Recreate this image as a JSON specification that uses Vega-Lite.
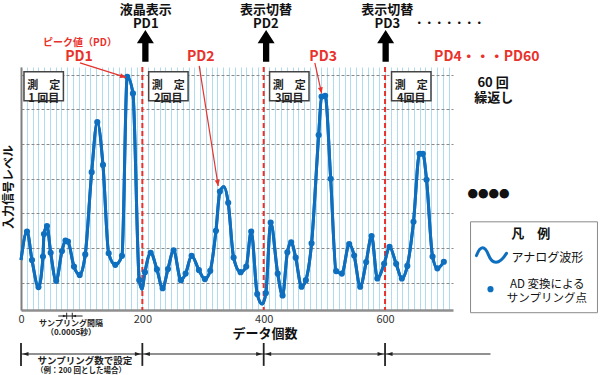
{
 "$schema": "https://vega.github.io/schema/vega-lite/v6.json",
 "width": 432, "height": 243,
 "autosize": {"type": "none"},
 "padding": {"left": 21, "top": 67, "right": 147, "bottom": 65},
 "background": "white",
 "config": {"font": "Noto Sans CJK JP", "view": {"stroke": null}},
 "resolve": {"axis": {"x": "independent"}},
 "datasets": {
  "wave": [
   {"x":0,"y":1.44,"s":0},{"x":9.9,"y":2.26,"s":1},{"x":18.1,"y":1.44,"s":1},{"x":28.8,"y":0.66,"s":1},{"x":36.2,"y":1.54,"s":1},{"x":37.9,"y":2.19,"s":1},{"x":42.8,"y":2.42,"s":1},{"x":48.9,"y":1.65,"s":1},{"x":58,"y":0.84,"s":1},{"x":67.5,"y":1.7,"s":1},{"x":73.3,"y":2,"s":1},{"x":77.4,"y":1.97,"s":1},{"x":87.3,"y":1.25,"s":1},{"x":96.7,"y":1.01,"s":1},{"x":105.9,"y":1.6,"s":1},{"x":116.5,"y":3.97,"s":1},{"x":125.7,"y":5.41,"s":1},{"x":135.1,"y":4.18,"s":1},{"x":144.5,"y":1.63,"s":1},{"x":155.4,"y":1.3,"s":1},{"x":166.4,"y":1.56,"s":1},{"x":175.1,"y":6.72,"s":1},{"x":184.5,"y":6.24,"s":1},{"x":194.9,"y":0.86,"s":1},{"x":199.3,"y":0.6,"s":0},{"x":204.3,"y":1.09,"s":1},{"x":213.7,"y":1.65,"s":1},{"x":224,"y":1.17,"s":1},{"x":233.4,"y":0.63,"s":1},{"x":242.2,"y":1.18,"s":1},{"x":251.5,"y":1.72,"s":1},{"x":263.6,"y":0.86,"s":1},{"x":271.3,"y":1.05,"s":1},{"x":281.2,"y":1.56,"s":1},{"x":293.2,"y":1.15,"s":1},{"x":303.1,"y":0.89,"s":1},{"x":311.9,"y":1.13,"s":1},{"x":321.3,"y":2.28,"s":1},{"x":327.8,"y":3.41,"s":1},{"x":334.4,"y":3.55,"s":0},{"x":341.5,"y":3.09,"s":1},{"x":350.4,"y":1.51,"s":1},{"x":361.9,"y":1.09,"s":1},{"x":371.2,"y":1.25,"s":1},{"x":379.4,"y":2.26,"s":1},{"x":389.3,"y":0.46,"s":1},{"x":397.5,"y":0.17,"s":0},{"x":403.6,"y":0.49,"s":1},{"x":411.5,"y":2.52,"s":1},{"x":423.1,"y":1.05,"s":1},{"x":431.1,"y":0.42,"s":1},{"x":439,"y":1.66,"s":1},{"x":445.3,"y":1.95,"s":1},{"x":452.7,"y":1.51,"s":1},{"x":462.4,"y":0.67,"s":1},{"x":469.5,"y":0.86,"s":1},{"x":478.9,"y":1.92,"s":1},{"x":490.6,"y":5.04,"s":1},{"x":495.4,"y":6.15,"s":1},{"x":501.3,"y":6.17,"s":1},{"x":510.4,"y":3.78,"s":1},{"x":519.4,"y":1.12,"s":1},{"x":528.8,"y":1.05,"s":1},{"x":540.9,"y":1.9,"s":1},{"x":549.1,"y":1.57,"s":1},{"x":559,"y":0.67,"s":1},{"x":568.9,"y":1.38,"s":1},{"x":577.8,"y":2.13,"s":1},{"x":587.3,"y":0.91,"s":1},{"x":598.5,"y":1.33,"s":1},{"x":607.4,"y":1.82,"s":1},{"x":618.3,"y":1.33,"s":1},{"x":627.7,"y":0.91,"s":1},{"x":636.7,"y":1.27,"s":1},{"x":646.9,"y":2.54,"s":1},{"x":656.8,"y":4.5,"s":1},{"x":662.3,"y":4.5,"s":1},{"x":668.4,"y":3.75,"s":1},{"x":678.3,"y":1.54,"s":1},{"x":686.2,"y":1.2,"s":1},{"x":696.9,"y":1.39,"s":1}
  ],
  "div": [{"x":200},{"x":400},{"x":600}],
  "bigarrow": [{"x":205,"y":7.61},{"x":404,"y":7.61},{"x":601,"y":7.61}],
  "head": [
   {"x":205.6,"y":8.65,"t":"液晶表示"},{"x":205.6,"y":8.23,"t":"PD1"},
   {"x":403.6,"y":8.65,"t":"表示切替"},{"x":403.6,"y":8.23,"t":"PD2"},
   {"x":603.8,"y":8.65,"t":"表示切替"},{"x":603.8,"y":8.23,"t":"PD3"}
  ],
  "dots": [{"x":706,"y":8.24,"t":"・・・・・・・"}],
  "redlab": [
   {"x":95.6,"y":7.3,"t":"PD1"},{"x":296.2,"y":7.3,"t":"PD2"},{"x":498,"y":7.3,"t":"PD3"},{"x":767.7,"y":7.3,"t":"PD4・・・PD60"}
  ],
  "peaklab": [{"x":97.2,"y":7.69,"t":"ピーク値（PD）"}],
  "pointer": [
   {"x":97.2,"y":7.12,"x2":173.0,"y2":6.7,"a":107},
   {"x":293.7,"y":7.03,"x2":325.0,"y2":3.572,"a":171},
   {"x":484.3,"y":7.12,"x2":495.4,"y2":6.243,"a":168}
  ],
  "boxes": [
   {"x":4.9,"x2":69.9,"y":6.865,"y2":6.03,"ym":6.448,"t":"測　定\n1 回目"},
   {"x":210.4,"x2":275.4,"y":6.865,"y2":6.03,"ym":6.448,"t":"測　定\n2回目"},
   {"x":409.7,"x2":474.7,"y":6.865,"y2":6.03,"ym":6.448,"t":"測　定\n3回目"},
   {"x":610.7,"x2":675.7,"y":6.865,"y2":6.03,"ym":6.448,"t":"測　定\n4回目"}
  ],
  "side": [{"x":778,"y":6.55,"t":"60 回"},{"x":779,"y":6.1,"t":"繰返し"}],
  "bullets": [{"x":770.5,"y":3.31,"t":"●●●●"}],
  "ytitle": [{"x":-20.5,"y":3.54,"t":"入力信号レベル"}],
  "xtitle": [{"x":402,"y":-0.69,"t":"データ個数"}],
  "interval": [{"x":82.4,"y":-0.41,"t":"サンプリング間隔"},{"x":82.4,"y":-0.67,"t":"（0.0005秒）"}],
  "intline": [{"x":61.4,"x2":101.5,"y":-0.173}],
  "intbar": [{"x":75.3,"y":-0.078,"y2":-0.268},{"x":84.5,"y":-0.078,"y2":-0.268}],
  "intR": [{"x":75.3,"y":-0.173}],
  "intL": [{"x":84.5,"y":-0.173}],
  "dimline": [{"x":0,"x2":773.8,"y":-1.268}],
  "dimbar": [{"x":0,"y":-0.95,"y2":-1.61},{"x":200,"y":-0.95,"y2":-1.61},{"x":400,"y":-0.95,"y2":-1.61},{"x":600,"y":-0.95,"y2":-1.61}],
  "dimL": [{"x":0,"y":-1.268},{"x":200,"y":-1.268},{"x":400,"y":-1.268},{"x":600,"y":-1.268}],
  "dimR": [{"x":200,"y":-1.268},{"x":400,"y":-1.268},{"x":600,"y":-1.268}],
  "dimtext1": [{"x":105.4,"y":-1.47,"t":"サンプリング数で設定"}],
  "dimtext2": [{"x":98.8,"y":-1.77,"t":"（例：200 回とした場合）"}],
  "legbox": [{"x":740.9,"x2":950.1,"y":2.54,"y2":-0.078}],
  "legtitle": [{"x":840.2,"y":2.19,"t":"凡　例"}],
  "legwave": [{"x":775.4,"y":1.61}],
  "legwavetext": [{"x":808.4,"y":1.5,"t":"アナログ波形"}],
  "legdot": [{"x":773.8,"y":0.6}],
  "legdottext": [{"x":867.4,"y":0.72,"t":"AD 変換による"},{"x":866.6,"y":0.32,"t":"サンプリング点"}]
 },
 "layer": [
  {
   "data": {"name": "wave"},
   "mark": {"type": "line", "interpolate": "monotone", "color": "#0f6fbf", "strokeWidth": 3},
   "encoding": {
    "x": {"field": "x", "type": "quantitative", "scale": {"domain": [0, 712], "nice": false, "zero": false},
      "axis": {"title": null, "orient": "bottom", "values": [0,9.52,19.05,28.57,38.1,47.62,57.14,66.67,76.19,85.71,95.24,104.76,114.29,123.81,133.33,142.86,152.38,161.9,171.43,180.95,190.48,200,209.52,219.05,228.57,238.1,247.62,257.14,266.67,276.19,285.71,295.24,304.76,314.29,323.81,333.33,342.86,352.38,361.9,371.43,380.95,390.48,400,409.52,419.05,428.57,438.1,447.62,457.14,466.67,476.19,485.71,495.24,504.76,514.29,523.81,533.33,542.86,552.38,561.9,571.43,580.95,590.48,600,609.52,619.05,628.57,638.1,647.62,657.14,666.67,676.19,685.71,695.24,704.76],
        "labels": false, "ticks": false, "grid": true, "gridColor": "#afdcef", "gridWidth": 1,
        "domainColor": "#8f8f8f", "domainWidth": 2.5}},
    "y": {"field": "y", "type": "quantitative", "scale": {"domain": [0, 7], "nice": false, "zero": false},
      "axis": {"title": null, "values": [0.78,1.78,2.78,3.78,4.78,5.78,6.78], "labels": false, "ticks": false, "grid": true, "gridColor": "#8a8a8a", "gridDash": [3, 2], "gridWidth": 1, "domainColor": "#7f7f7f", "domainWidth": 2}}
   }
  },
  {
   "mark": {"type": "rule", "color": "#555555", "strokeWidth": 2},
   "encoding": {"y": {"datum": 7, "type": "quantitative"}}
  },
  {
   "data": {"name": "div"},
   "mark": {"type": "rule", "color": "#e8322b", "strokeWidth": 2, "strokeDash": [5, 3]},
   "encoding": {"x": {"field": "x", "type": "quantitative",
     "axis": {"title": null, "orient": "bottom", "values": [0, 200, 400, 600], "format": "d", "ticks": false, "grid": false, "domain": false, "labelFontSize": 11, "labelColor": "#333333", "labelPadding": 3, "labelFlush": false, "labelOverlap": false, "labelFont": "Noto Sans CJK JP"}}}
  },
  {
   "data": {"name": "boxes"},
   "mark": {"type": "rect", "fill": "white", "stroke": "#444444", "strokeWidth": 1.5},
   "encoding": {
    "x": {"field": "x", "type": "quantitative", "axis": null}, "x2": {"field": "x2"},
    "y": {"field": "y", "type": "quantitative"}, "y2": {"field": "y2"}
   }
  },
  {
   "data": {"name": "boxes"},
   "mark": {"type": "text", "fontSize": 11, "fontWeight": "bold", "color": "#222222", "align": "center", "baseline": "middle", "lineBreak": "\n", "lineHeight": 13, "dx": 19.7},
   "encoding": {
    "x": {"field": "x", "type": "quantitative", "axis": null},
    "y": {"field": "ym", "type": "quantitative"},
    "text": {"field": "t"}
   }
  },
  {
   "data": {"name": "wave"},
   "mark": {"type": "line", "interpolate": "monotone", "color": "#0f6fbf", "strokeWidth": 3},
   "encoding": {
    "x": {"field": "x", "type": "quantitative", "axis": null},
    "y": {"field": "y", "type": "quantitative"}
   }
  },
  {
   "data": {"name": "wave"},
   "transform": [{"filter": "datum.s == 1"}],
   "mark": {"type": "point", "filled": true, "color": "#0f6fbf", "size": 38, "opacity": 1},
   "encoding": {
    "x": {"field": "x", "type": "quantitative", "axis": null},
    "y": {"field": "y", "type": "quantitative"}
   }
  },
  {
   "data": {"name": "pointer"},
   "mark": {"type": "rule", "color": "#e8322b", "strokeWidth": 1.2},
   "encoding": {
    "x": {"field": "x", "type": "quantitative", "axis": null}, "x2": {"field": "x2"},
    "y": {"field": "y", "type": "quantitative"}, "y2": {"field": "y2"}
   }
  },
  {
   "data": {"name": "pointer"},
   "mark": {"type": "point", "shape": "M0,0L-1,2.4L1,2.4Z", "filled": true, "color": "#e8322b", "size": 25, "opacity": 1},
   "encoding": {
    "x": {"field": "x2", "type": "quantitative", "axis": null},
    "y": {"field": "y2", "type": "quantitative"},
    "angle": {"field": "a", "type": "quantitative", "scale": null}
   }
  },
  {
   "data": {"name": "bigarrow"},
   "mark": {"type": "point", "shape": "M0,-1.87L1,-0.3L0.37,-0.3L0.37,1.87L-0.37,1.87L-0.37,-0.3L-1,-0.3Z", "filled": true, "color": "#000000", "size": 289, "opacity": 1},
   "encoding": {
    "x": {"field": "x", "type": "quantitative", "axis": null},
    "y": {"field": "y", "type": "quantitative"}
   }
  },
  {
   "data": {"name": "head"},
   "mark": {"type": "text", "fontSize": 13, "fontWeight": "bold", "color": "#111111", "align": "center", "baseline": "middle"},
   "encoding": {"x": {"field": "x", "type": "quantitative", "axis": null}, "y": {"field": "y", "type": "quantitative"}, "text": {"field": "t"}}
  },
  {
   "data": {"name": "dots"},
   "mark": {"type": "text", "fontSize": 10, "fontWeight": "bold", "color": "#111111", "align": "center", "baseline": "middle"},
   "encoding": {"x": {"field": "x", "type": "quantitative", "axis": null}, "y": {"field": "y", "type": "quantitative"}, "text": {"field": "t"}}
  },
  {
   "data": {"name": "redlab"},
   "mark": {"type": "text", "fontSize": 14, "fontWeight": "bold", "color": "#e8322b", "align": "center", "baseline": "middle"},
   "encoding": {"x": {"field": "x", "type": "quantitative", "axis": null}, "y": {"field": "y", "type": "quantitative"}, "text": {"field": "t"}}
  },
  {
   "data": {"name": "peaklab"},
   "mark": {"type": "text", "fontSize": 10, "fontWeight": "bold", "color": "#e8322b", "align": "center", "baseline": "middle"},
   "encoding": {"x": {"field": "x", "type": "quantitative", "axis": null}, "y": {"field": "y", "type": "quantitative"}, "text": {"field": "t"}}
  },
  {
   "data": {"name": "side"},
   "mark": {"type": "text", "fontSize": 13, "fontWeight": "bold", "color": "#111111", "align": "center", "baseline": "middle"},
   "encoding": {"x": {"field": "x", "type": "quantitative", "axis": null}, "y": {"field": "y", "type": "quantitative"}, "text": {"field": "t"}}
  },
  {
   "data": {"name": "bullets"},
   "mark": {"type": "text", "fontSize": 10.5, "color": "#111111", "align": "center", "baseline": "middle"},
   "encoding": {"x": {"field": "x", "type": "quantitative", "axis": null}, "y": {"field": "y", "type": "quantitative"}, "text": {"field": "t"}}
  },
  {
   "data": {"name": "ytitle"},
   "mark": {"type": "text", "fontSize": 12, "fontWeight": "bold", "color": "#111111", "align": "center", "baseline": "middle", "angle": 270},
   "encoding": {"x": {"field": "x", "type": "quantitative", "axis": null}, "y": {"field": "y", "type": "quantitative"}, "text": {"field": "t"}}
  },
  {
   "data": {"name": "xtitle"},
   "mark": {"type": "text", "fontSize": 13, "fontWeight": "bold", "color": "#111111", "align": "center", "baseline": "middle"},
   "encoding": {"x": {"field": "x", "type": "quantitative", "axis": null}, "y": {"field": "y", "type": "quantitative"}, "text": {"field": "t"}}
  },
  {
   "data": {"name": "interval"},
   "mark": {"type": "text", "fontSize": 8, "fontWeight": "bold", "color": "#222222", "align": "center", "baseline": "middle"},
   "encoding": {"x": {"field": "x", "type": "quantitative", "axis": null}, "y": {"field": "y", "type": "quantitative"}, "text": {"field": "t"}}
  },
  {
   "data": {"name": "intline"},
   "mark": {"type": "rule", "color": "#222222", "strokeWidth": 1},
   "encoding": {"x": {"field": "x", "type": "quantitative", "axis": null}, "x2": {"field": "x2"}, "y": {"field": "y", "type": "quantitative"}}
  },
  {
   "data": {"name": "intbar"},
   "mark": {"type": "rule", "color": "#222222", "strokeWidth": 1},
   "encoding": {"x": {"field": "x", "type": "quantitative", "axis": null}, "y": {"field": "y", "type": "quantitative"}, "y2": {"field": "y2"}}
  },
  {
   "data": {"name": "intR"},
   "mark": {"type": "point", "shape": "M0,0L-2.4,-0.8L-2.4,0.8Z", "filled": true, "color": "#222222", "size": 10, "opacity": 1},
   "encoding": {"x": {"field": "x", "type": "quantitative", "axis": null}, "y": {"field": "y", "type": "quantitative"}}
  },
  {
   "data": {"name": "intL"},
   "mark": {"type": "point", "shape": "M0,0L2.4,-0.8L2.4,0.8Z", "filled": true, "color": "#222222", "size": 10, "opacity": 1},
   "encoding": {"x": {"field": "x", "type": "quantitative", "axis": null}, "y": {"field": "y", "type": "quantitative"}}
  },
  {
   "data": {"name": "dimline"},
   "mark": {"type": "rule", "color": "#222222", "strokeWidth": 1.2},
   "encoding": {"x": {"field": "x", "type": "quantitative", "axis": null}, "x2": {"field": "x2"}, "y": {"field": "y", "type": "quantitative"}}
  },
  {
   "data": {"name": "dimbar"},
   "mark": {"type": "rule", "color": "#222222", "strokeWidth": 1.8},
   "encoding": {"x": {"field": "x", "type": "quantitative", "axis": null}, "y": {"field": "y", "type": "quantitative"}, "y2": {"field": "y2"}}
  },
  {
   "data": {"name": "dimL"},
   "mark": {"type": "point", "shape": "M0,0L2.4,-0.8L2.4,0.8Z", "filled": true, "color": "#222222", "size": 25, "opacity": 1, "xOffset": 1.5},
   "encoding": {"x": {"field": "x", "type": "quantitative", "axis": null}, "y": {"field": "y", "type": "quantitative"}}
  },
  {
   "data": {"name": "dimR"},
   "mark": {"type": "point", "shape": "M0,0L-2.4,-0.8L-2.4,0.8Z", "filled": true, "color": "#222222", "size": 25, "opacity": 1, "xOffset": -1.5},
   "encoding": {"x": {"field": "x", "type": "quantitative", "axis": null}, "y": {"field": "y", "type": "quantitative"}}
  },
  {
   "data": {"name": "dimtext1"},
   "mark": {"type": "text", "fontSize": 9.5, "fontWeight": "bold", "color": "#222222", "align": "center", "baseline": "middle"},
   "encoding": {"x": {"field": "x", "type": "quantitative", "axis": null}, "y": {"field": "y", "type": "quantitative"}, "text": {"field": "t"}}
  },
  {
   "data": {"name": "dimtext2"},
   "mark": {"type": "text", "fontSize": 7.5, "fontWeight": "bold", "color": "#222222", "align": "center", "baseline": "middle"},
   "encoding": {"x": {"field": "x", "type": "quantitative", "axis": null}, "y": {"field": "y", "type": "quantitative"}, "text": {"field": "t"}}
  },
  {
   "data": {"name": "legbox"},
   "mark": {"type": "rect", "fill": "white", "stroke": "#8a8a8a", "strokeWidth": 1},
   "encoding": {"x": {"field": "x", "type": "quantitative", "axis": null}, "x2": {"field": "x2"}, "y": {"field": "y", "type": "quantitative"}, "y2": {"field": "y2"}}
  },
  {
   "data": {"name": "legtitle"},
   "mark": {"type": "text", "fontSize": 13, "fontWeight": "bold", "color": "#111111", "align": "center", "baseline": "middle"},
   "encoding": {"x": {"field": "x", "type": "quantitative", "axis": null}, "y": {"field": "y", "type": "quantitative"}, "text": {"field": "t"}}
  },
  {
   "data": {"name": "legwave"},
   "mark": {"type": "point", "shape": "M-1,0.1C-0.75,-0.6 -0.45,-0.6 -0.2,0.05C0.05,0.7 0.5,0.75 1,-0.05", "filled": false, "stroke": "#0f6fbf", "strokeWidth": 3, "strokeCap": "round", "size": 900, "opacity": 1},
   "encoding": {"x": {"field": "x", "type": "quantitative", "axis": null}, "y": {"field": "y", "type": "quantitative"}}
  },
  {
   "data": {"name": "legwavetext"},
   "mark": {"type": "text", "fontSize": 12, "color": "#111111", "align": "left", "baseline": "middle"},
   "encoding": {"x": {"field": "x", "type": "quantitative", "axis": null}, "y": {"field": "y", "type": "quantitative"}, "text": {"field": "t"}}
  },
  {
   "data": {"name": "legdot"},
   "mark": {"type": "point", "filled": true, "color": "#0f6fbf", "size": 38, "opacity": 1},
   "encoding": {"x": {"field": "x", "type": "quantitative", "axis": null}, "y": {"field": "y", "type": "quantitative"}}
  },
  {
   "data": {"name": "legdottext"},
   "mark": {"type": "text", "fontSize": 11.5, "color": "#111111", "align": "center", "baseline": "middle"},
   "encoding": {"x": {"field": "x", "type": "quantitative", "axis": null}, "y": {"field": "y", "type": "quantitative"}, "text": {"field": "t"}}
  }
 ]
}
